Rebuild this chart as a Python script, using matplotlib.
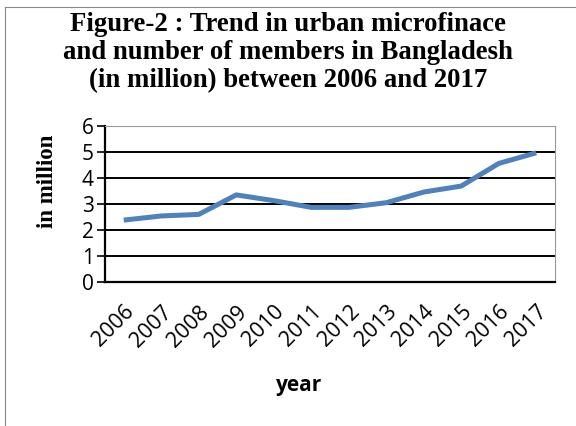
import numpy as np
import matplotlib.pyplot as plt
import matplotlib.transforms as mtransforms
from matplotlib.lines import Line2D

years = ['2006', '2007', '2008', '2009', '2010', '2011',
         '2012', '2013', '2014', '2015', '2016', '2017']
members = [2.38, 2.54, 2.60, 3.35, 3.13, 2.87,
           2.87, 3.05, 3.46, 3.69, 4.56, 4.97]

fig = plt.figure(figsize=(5.76, 4.26), dpi=100)
ax = fig.add_axes([105 / 576, 1 - 282 / 426, 450 / 576, 156 / 426])

ind = np.arange(len(years))
ax.plot(ind, members, color='#4F81BD', linewidth=3.6, solid_capstyle='butt')

ax.set_xlim(-0.5, len(years) - 0.5)
ax.set_ylim(0, 6)
ax.set_yticks(range(7))
ax.yaxis.grid(True, color='black', linewidth=1.4)
ax.set_axisbelow(True)
ax.set_xticks(ind)
ax.set_xticklabels(years, rotation=45, ha='right', va='top', rotation_mode='anchor',
                   family='Open Sans', fontsize=15.5)
shift = mtransforms.ScaledTranslation(-5 / 100, 0, fig.dpi_scale_trans)
for lbl in ax.get_xticklabels():
    lbl.set_transform(lbl.get_transform() + shift)
for lbl in ax.get_yticklabels():
    lbl.set_family('Open Sans')
    lbl.set_fontsize(15)
ax.tick_params(axis='x', length=0, pad=14)
ax.tick_params(axis='y', length=6, width=1.2, pad=2)

for side in ['left', 'bottom']:
    ax.spines[side].set_linewidth(1.6)
    ax.spines[side].set_color('black')
for side in ['top', 'right']:
    ax.spines[side].set_linewidth(0.8)
    ax.spines[side].set_color('#999999')

ax.set_xlabel('year', family='Open Sans', fontweight='bold', fontsize=15, va='center')
ax.xaxis.set_label_coords((299 - 105) / 450, (282 - 385) / 156)
ax.set_ylabel('in million', family='Liberation Serif', fontweight='bold',
              fontsize=16.5, va='center')
ax.yaxis.set_label_coords((48 - 105) / 450, (282 - 181) / 156)

fig.text(0.5, 1 - 53 / 426,
         'Figure-2 : Trend in urban microfinace\nand number of members in Bangladesh\n(in million) between 2006 and 2017',
         ha='center', va='center', family='Liberation Serif', fontweight='bold',
         fontsize=19.3, linespacing=1.16)

# thin frame around the figure (top and left edges)
fig.add_artist(Line2D([5 / 576, 5 / 576], [0, 1 - 7 / 426], color='#888888', linewidth=0.8))
fig.add_artist(Line2D([5 / 576, 1], [1 - 7 / 426, 1 - 7 / 426], color='#888888', linewidth=0.8))

plt.savefig('out.png', dpi=100)
